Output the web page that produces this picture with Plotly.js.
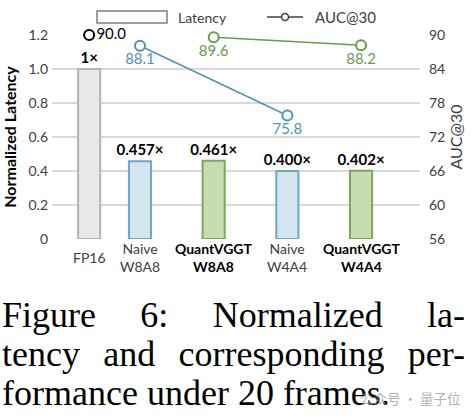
<!DOCTYPE html>
<html>
<head>
<meta charset="utf-8">
<script src="https://cdn.plot.ly/plotly-3.0.1.min.js"></script>
<style>
  html, body { margin: 0; padding: 0; background: #ffffff; }
  #wrap { position: relative; width: 473px; height: 416px; overflow: hidden; background: #fff; }
  #chart { position: absolute; left: 0; top: 0; width: 473px; height: 285px; }
  #caption { position: absolute; left: 2px; top: 296px; width: 463px;
             font-family: "Liberation Serif", "DejaVu Serif", serif; font-size: 36px;
             line-height: 39px; color: #000; }
  #caption .j { display: block; text-align: justify; text-align-last: justify; white-space: nowrap; }
  #caption .l { display: block; text-align: left; white-space: nowrap; }
  #wm { position: absolute; left: 360px; top: 388px; font-family: "Noto Sans CJK SC", sans-serif;
        font-size: 13.5px; color: rgba(150,150,150,0.75); white-space: nowrap; }
</style>
</head>
<body>
<div id="wrap">
  <div id="chart"></div>
  <div id="caption">
    <span class="j">Figure 6: Normalized la-</span>
    <span class="j">tency and corresponding per-</span>
    <span class="l">formance under 20 frames.</span>
  </div>
  <div id="wm">公众号 · 量子位</div>
</div>
<script>
// ---- data ----
const categories = ['FP16', 'Naive W8A8', 'QuantVGGT W8A8', 'Naive W4A4', 'QuantVGGT W4A4'];
const latency = [1, 0.457, 0.461, 0.400, 0.402];
const auc30 = [90.0, 88.1, 89.6, 75.8, 88.2];
const leftTickVals = [0, 0.2, 0.4, 0.6, 0.8, 1.0, 1.2];
const leftTickLabels = ['0', '0.2', '0.4', '0.6', '0.8', '1.0', '1.2'];
const rightTickVals = [54, 60, 66, 72, 78, 84, 90];
const rightTickLabels = ['56', '60', '66', '72', '78', '84', '90'];

// ---- layout helpers (category scale) ----
const catPos = [0.31, 1, 2, 3, 4];
const naiveIdx = [1, 3];
const quantIdx = [2, 4];

const FONT = 'Lato, "Open Sans", sans-serif';
const BLUE = '#4e93b9';
const GREEN = '#6b9b46';

const fill = categories.map(c => c.startsWith('FP16') ? '#e8e8e8' : (c.startsWith('Naive') ? '#d3e6f0' : '#c6ddb1'));
const edge = categories.map(c => c.startsWith('FP16') ? '#b3b3b3' : (c.startsWith('Naive') ? '#6aa8c8' : '#7ca85a'));
const barText = latency.map(v => (v === 1 ? '1' : v.toFixed(3)) + '×');

const bars = {
  type: 'bar', x: catPos, y: latency, width: 0.3,
  marker: { color: fill, line: { color: edge, width: 2 } },
  text: barText, textposition: 'outside', cliponaxis: false, constraintext: 'none',
  textfont: { family: FONT, size: 15, color: '#000', weight: 'bold' },
  hoverinfo: 'skip', showlegend: false
};

function lineTrace(idx, color) {
  return {
    type: 'scatter', mode: 'lines+markers+text', yaxis: 'y2',
    x: idx.map(i => catPos[i]), y: idx.map(i => auc30[i]),
    text: idx.map(i => auc30[i].toFixed(1)), textposition: 'bottom center',
    textfont: { family: FONT, size: 15, color: color },
    line: { color: color, width: 1.5 },
    marker: { symbol: 'circle', size: 10, color: '#fff', line: { color: color, width: 2 } },
    cliponaxis: false, showlegend: false, hoverinfo: 'skip'
  };
}
const fp16Point = {
  type: 'scatter', mode: 'markers+text', yaxis: 'y2',
  x: [catPos[0]], y: [auc30[0]], text: [auc30[0].toFixed(1)], textposition: 'middle right',
  textfont: { family: FONT, size: 15, color: '#000' },
  marker: { symbol: 'circle', size: 10, color: '#fff', line: { color: '#000', width: 2 } },
  cliponaxis: false, showlegend: false, hoverinfo: 'skip'
};

// category labels below the axis
const catAnn = categories.map((c, i) => {
  const parts = c.split(' ');
  const bold = c.startsWith('QuantVGGT');
  const txt = parts.join('<br>');
  return {
    x: catPos[i], xref: 'x', y: -0.09, yref: 'paper', yanchor: 'middle', xanchor: 'center',
    text: bold ? '<b>' + txt + '</b>' : txt, showarrow: false,
    font: { family: FONT, size: 14, color: bold ? '#000' : '#404040' }
  };
});

// legend drawn as decoration
const legendAnn = [
  { x: 0.337, y: 1.088, xref: 'paper', yref: 'paper', xanchor: 'left', yanchor: 'middle',
    text: 'Latency', showarrow: false, font: { family: FONT, size: 14, color: '#404040' } },
  { x: 0.709, y: 1.088, xref: 'paper', yref: 'paper', xanchor: 'left', yanchor: 'middle',
    text: 'AUC@30', showarrow: false, font: { family: FONT, size: 15, color: '#404040' } }
];
const legendShapes = [
  { type: 'rect', xref: 'paper', yref: 'paper', x0: 0.1223, x1: 0.3125, y0: 1.0588, y1: 1.1176,
    line: { color: '#7f7f7f', width: 1.5 }, fillcolor: '#fff' },
  { type: 'line', xref: 'paper', yref: 'paper', x0: 0.5842, x1: 0.6821, y0: 1.0882, y1: 1.0882,
    line: { color: '#404040', width: 1.5 } },
  { type: 'circle', xref: 'paper', yref: 'paper', x0: 0.6332 - 0.0095, x1: 0.6332 + 0.0095,
    y0: 1.0882 - 0.0172, y1: 1.0882 + 0.0172, line: { color: '#404040', width: 1.5 }, fillcolor: '#fff' }
];

const layout = {
  width: 473, height: 285,
  margin: { l: 52, r: 53, t: 35, b: 46 },
  paper_bgcolor: '#fff', plot_bgcolor: '#fff',
  font: { family: FONT, color: '#404040' },
  showlegend: false,
  xaxis: { range: [-0.194, 4.8], showticklabels: false, showgrid: false, zeroline: false, fixedrange: true },
  yaxis: {
    range: [0, 1.2], tickvals: leftTickVals, ticktext: leftTickLabels,
    showgrid: true, gridcolor: '#d9d9d9', gridwidth: 1.5, zeroline: false, showline: false,
    ticks: '', ticklabelstandoff: 3, tickfont: { family: FONT, size: 14, color: '#404040' },
    title: { text: '<b>Normalized Latency</b>', font: { family: FONT, size: 16, color: '#000' }, standoff: 8 }
  },
  yaxis2: {
    range: [54, 90], overlaying: 'y', side: 'right', tickvals: rightTickVals, ticktext: rightTickLabels,
    showgrid: false, zeroline: false, showline: false, ticks: '', ticklabelstandoff: 8,
    tickfont: { family: FONT, size: 14, color: '#404040' },
    title: { text: 'AUC@30', font: { family: FONT, size: 16, color: '#404040' }, standoff: 6 }
  },
  annotations: catAnn.concat(legendAnn),
  shapes: legendShapes
};

Plotly.newPlot('chart', [bars, lineTrace(naiveIdx, BLUE), lineTrace(quantIdx, GREEN), fp16Point], layout,
  { staticPlot: true, displayModeBar: false });
</script>
</body>
</html>
